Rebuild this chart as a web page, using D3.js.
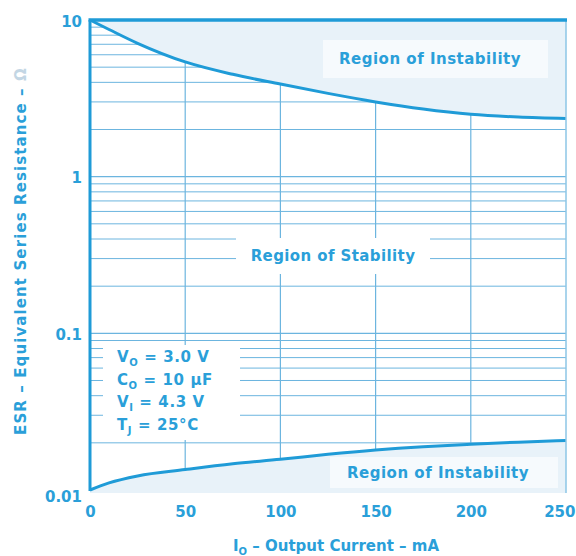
<html>
<head>
    <script src="https://d3js.org/d3.v7.min.js"></script>
    <style>
        body { margin: 0; background: #ffffff; }
        text { font-family: "DejaVu Sans", Arial, sans-serif; font-weight: bold; }
    </style>
</head>
<body>
    <svg id="chart"></svg>
    <script>
        // output current (mA) and boundary ESR values (ohm)
        var currentMA = [0, 10, 25, 50, 75, 100, 125, 150, 175, 200, 225, 250];
        var esrUpper = [10, 8.7, 7.1, 5.4, 4.5, 3.9, 3.4, 3.0, 2.7, 2.5, 2.4, 2.35];
        var esrLower = [0.01, 0.0111, 0.0123, 0.0135, 0.0147, 0.0157, 0.0169, 0.0180, 0.0189, 0.0196, 0.0202, 0.0207];
        var xTicks = [0, 50, 100, 150, 200, 250];
        var yTicks = [0.01, 0.1, 1, 10];
        var yTickLabels = ["0.01", "0.1", "1", "10"];
        var conditions = [["V", "O", " = 3.0 V"], ["C", "O", " = 10 \u03bcF"], ["V", "I", " = 4.3 V"], ["T", "J", " = 25\u00b0C"]];

        var W = 576, H = 556;
        var blue = "#1f9bd7", textBlue = "#2a9fd9", grid = "#6cb5df", fill = "#e8f2f9";

        var svg = d3.select("#chart").attr("width", W).attr("height", H);

        var x = d3.scaleLinear().domain([0, 250]).range([90, 566]);
        var y = d3.scaleLog().domain([0.01, 10]).range([490, 20]);

        // minor log grid lines
        var gridVals = [];
        [0.01, 0.1, 1].forEach(function(dec) {
            for (var k = 1; k <= 9; k++) gridVals.push(dec * k);
        });
        svg.append("g").selectAll("line")
            .data(gridVals.filter(function(v){ return v > 0.01; }))
            .enter().append("line")
            .attr("x1", x(0)).attr("x2", x(250))
            .attr("y1", function(d){ return y(d); }).attr("y2", function(d){ return y(d); })
            .attr("stroke", grid).attr("stroke-width", function(d){ return (d === 0.1 || d === 1) ? 1.4 : 1; });
        svg.append("g").selectAll("line")
            .data([50, 100, 150, 200])
            .enter().append("line")
            .attr("x1", function(d){ return x(d); }).attr("x2", function(d){ return x(d); })
            .attr("y1", y(10)).attr("y2", y(0.01))
            .attr("stroke", grid).attr("stroke-width", 1.2);

        // instability regions
        var pts = currentMA.map(function(c, i){ return {c: c, hi: esrUpper[i], lo: esrLower[i]}; });
        var upperArea = d3.area().curve(d3.curveMonotoneX)
            .x(function(d){ return x(d.c); })
            .y0(y(10)).y1(function(d){ return y(d.hi); });
        var lowerArea = d3.area().curve(d3.curveMonotoneX)
            .x(function(d){ return x(d.c); })
            .y0(y(0.01) + 3).y1(function(d){ return y(d.lo); });
        svg.append("path").datum(pts).attr("d", upperArea).attr("fill", fill);
        svg.append("path").datum(pts).attr("d", lowerArea).attr("fill", fill);

        // label backgrounds
        svg.append("rect").attr("x", 323).attr("y", 40).attr("width", 225).attr("height", 38).attr("fill", "#f6fafd");
        svg.append("rect").attr("x", 330).attr("y", 457).attr("width", 228).attr("height", 31).attr("fill", "#f6fafd");
        svg.append("rect").attr("x", 236).attr("y", 238).attr("width", 194).attr("height", 36).attr("fill", "#ffffff");
        svg.append("rect").attr("x", 103).attr("y", 345).attr("width", 137).attr("height", 95).attr("fill", "#ffffff");

        // boundary curves
        var upperLine = d3.line().curve(d3.curveMonotoneX)
            .x(function(d){ return x(d.c); }).y(function(d){ return y(d.hi); });
        var lowerLine = d3.line().curve(d3.curveMonotoneX)
            .x(function(d){ return x(d.c); }).y(function(d){ return y(d.lo); });
        svg.append("path").datum(pts).attr("d", upperLine).attr("fill", "none").attr("stroke", blue).attr("stroke-width", 3);
        svg.append("path").datum(pts).attr("d", lowerLine).attr("fill", "none").attr("stroke", blue).attr("stroke-width", 3);

        // frame
        svg.append("line").attr("x1", x(250)).attr("x2", x(250)).attr("y1", y(10)).attr("y2", y(0.01) + 3)
            .attr("stroke", "#8cc6e6").attr("stroke-width", 1.5);
        svg.append("line").attr("x1", x(0) - 1.5).attr("x2", x(250) + 1).attr("y1", y(10)).attr("y2", y(10))
            .attr("stroke", blue).attr("stroke-width", 3.5);
        svg.append("line").attr("x1", x(0)).attr("x2", x(0)).attr("y1", y(10)).attr("y2", y(0.01) + 1)
            .attr("stroke", blue).attr("stroke-width", 3);

        // axes (labels only)
        var xAxis = svg.append("g").attr("transform", "translate(0," + 517 + ")")
            .call(d3.axisBottom(x).tickValues(xTicks).tickSize(0).tickFormat(d3.format("d")));
        xAxis.select(".domain").remove();
        xAxis.selectAll("text").attr("fill", textBlue).attr("font-size", 15).attr("y", 0).attr("dy", 0);
        xAxis.selectAll("text").filter(function(d){ return d === 250; })
            .attr("text-anchor", "end").attr("x", 575 - x(250));

        var yAxis = svg.append("g").attr("transform", "translate(" + 82 + ",0)")
            .call(d3.axisLeft(y).tickValues(yTicks).tickSize(0)
                .tickFormat(function(d, i){ return yTickLabels[i]; }));
        yAxis.select(".domain").remove();
        yAxis.selectAll("text").attr("fill", textBlue).attr("font-size", 15).attr("x", 0)
            .attr("dy", function(d){ return d === 0.01 ? "0.75em" : "0.4em"; });

        // axis titles
        var xt = svg.append("text").attr("x", 336).attr("y", 551).attr("text-anchor", "middle")
            .attr("fill", textBlue).attr("font-size", 15);
        xt.append("tspan").text("I");
        xt.append("tspan").attr("font-size", 10).attr("dy", 4).text("O");
        xt.append("tspan").attr("dy", -4).text(" \u2013 Output Current \u2013 mA");

        var yt = svg.append("text").attr("transform", "translate(26,251) rotate(-90)")
            .attr("text-anchor", "middle").attr("fill", textBlue).attr("font-size", 15)
            .attr("letter-spacing", 1.1);
        yt.append("tspan").text("ESR \u2013 Equivalent Series Resistance \u2013 ");
        yt.append("tspan").attr("fill", "#c3d6e4").text("\u03a9");

        // region labels
        svg.append("text").attr("x", 430).attr("y", 64).attr("text-anchor", "middle").attr("letter-spacing", 0.5)
            .attr("fill", textBlue).attr("font-size", 15).text("Region of Instability");
        svg.append("text").attr("x", 438).attr("y", 478).attr("text-anchor", "middle").attr("letter-spacing", 0.5)
            .attr("fill", textBlue).attr("font-size", 15).text("Region of Instability");
        svg.append("text").attr("x", 333).attr("y", 261).attr("text-anchor", "middle").attr("letter-spacing", 0.4)
            .attr("fill", textBlue).attr("font-size", 15).text("Region of Stability");

        // test conditions
        var cond = svg.append("g").selectAll("text").data(conditions).enter().append("text")
            .attr("x", 117).attr("y", function(d, i){ return 362 + i * 22.5; })
            .attr("fill", textBlue).attr("font-size", 15).attr("letter-spacing", 0.6);
        cond.append("tspan").text(function(d){ return d[0]; });
        cond.append("tspan").attr("font-size", 10).attr("dy", 4).text(function(d){ return d[1]; });
        cond.append("tspan").attr("dy", -4).text(function(d){ return d[2]; });
    </script>
</body>
</html>
